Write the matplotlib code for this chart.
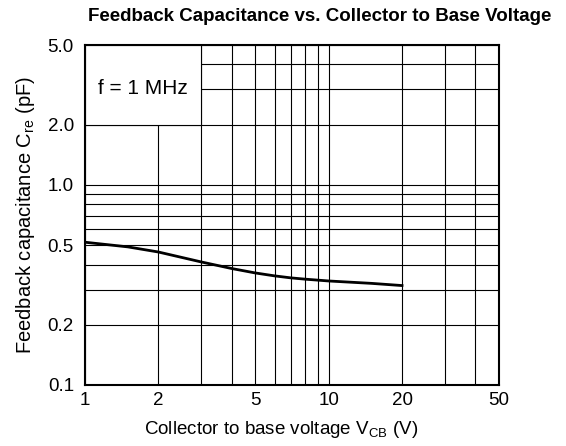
import numpy as np
import matplotlib
matplotlib.use("Agg")
import matplotlib.pyplot as plt
from matplotlib.patches import Rectangle
from matplotlib.ticker import FixedLocator, NullFormatter

plt.rcParams['font.family'] = ['Liberation Sans', 'DejaVu Sans']
plt.rcParams['mathtext.fontset'] = 'custom'
plt.rcParams['mathtext.rm'] = 'Liberation Sans'

# curve
vcb = [1, 1.5, 2, 3, 4, 5, 6, 7, 8, 10, 15, 20]
cre = [0.517, 0.49, 0.462, 0.412, 0.382, 0.363, 0.351, 0.343, 0.338, 0.331, 0.322, 0.314]

xticks = [1, 2, 5, 10, 20, 50]
xlabels = ["1", "2", "5", "10", "20", "50"]
yticks = [0.1, 0.2, 0.5, 1.0, 2.0, 5.0]
ylabels = ["0.1", "0.2", "0.5", "1.0", "2.0", "5.0"]

# grid lines as drawn on the datasheet
xgrid = [3, 4, 6, 7, 8, 9, 30, 40]
ygrid = [0.3, 0.4, 0.6, 0.7, 0.8, 0.9, 3.0, 4.0]

fig = plt.figure(figsize=(5.66, 4.46), dpi=100)
ax = fig.add_axes([0.1502, 0.1368, 0.7314, 0.7622])

ax.set_xscale('log')
ax.set_yscale('log')
ax.set_xlim(1, 50)
ax.set_ylim(0.1, 5.0)

ax.xaxis.set_major_locator(FixedLocator(xticks))
ax.set_xticklabels(xlabels)
ax.yaxis.set_major_locator(FixedLocator(yticks))
ax.set_yticklabels(ylabels)
ax.xaxis.set_minor_locator(FixedLocator(xgrid))
ax.yaxis.set_minor_locator(FixedLocator(ygrid))
ax.xaxis.set_minor_formatter(NullFormatter())
ax.yaxis.set_minor_formatter(NullFormatter())
ax.tick_params(which='both', length=0, labelsize=13.5)
ax.tick_params(axis='x', pad=5)
ax.tick_params(axis='y', pad=8)
ax.grid(which='both', color='black', linewidth=0.8)

for s in ax.spines.values():
    s.set_linewidth(1.5)

# white box behind the frequency note
ax.add_patch(Rectangle((1, 2), 2, 3, facecolor='white', edgecolor='black',
                       linewidth=0.8, zorder=2))
ax.text(1.72, 3.02, "f = 1 MHz", fontsize=15, ha='center', va='center', zorder=3)

ax.plot(vcb, cre, color='black', linewidth=2, zorder=4)

ax.set_xlabel("Collector to base voltage V$_{\\mathregular{CB}}$ (V)", fontsize=13.5,
              labelpad=7, x=0.473)
ax.set_ylabel("Feedback capacitance C$_{\\mathregular{re}}$ (pF)", fontsize=14.5, labelpad=8)
ax.set_title("Feedback Capacitance vs. Collector to Base Voltage",
             fontsize=13.5, fontweight='bold', pad=17, x=0.568)

fig.savefig("out.png", dpi=100)
